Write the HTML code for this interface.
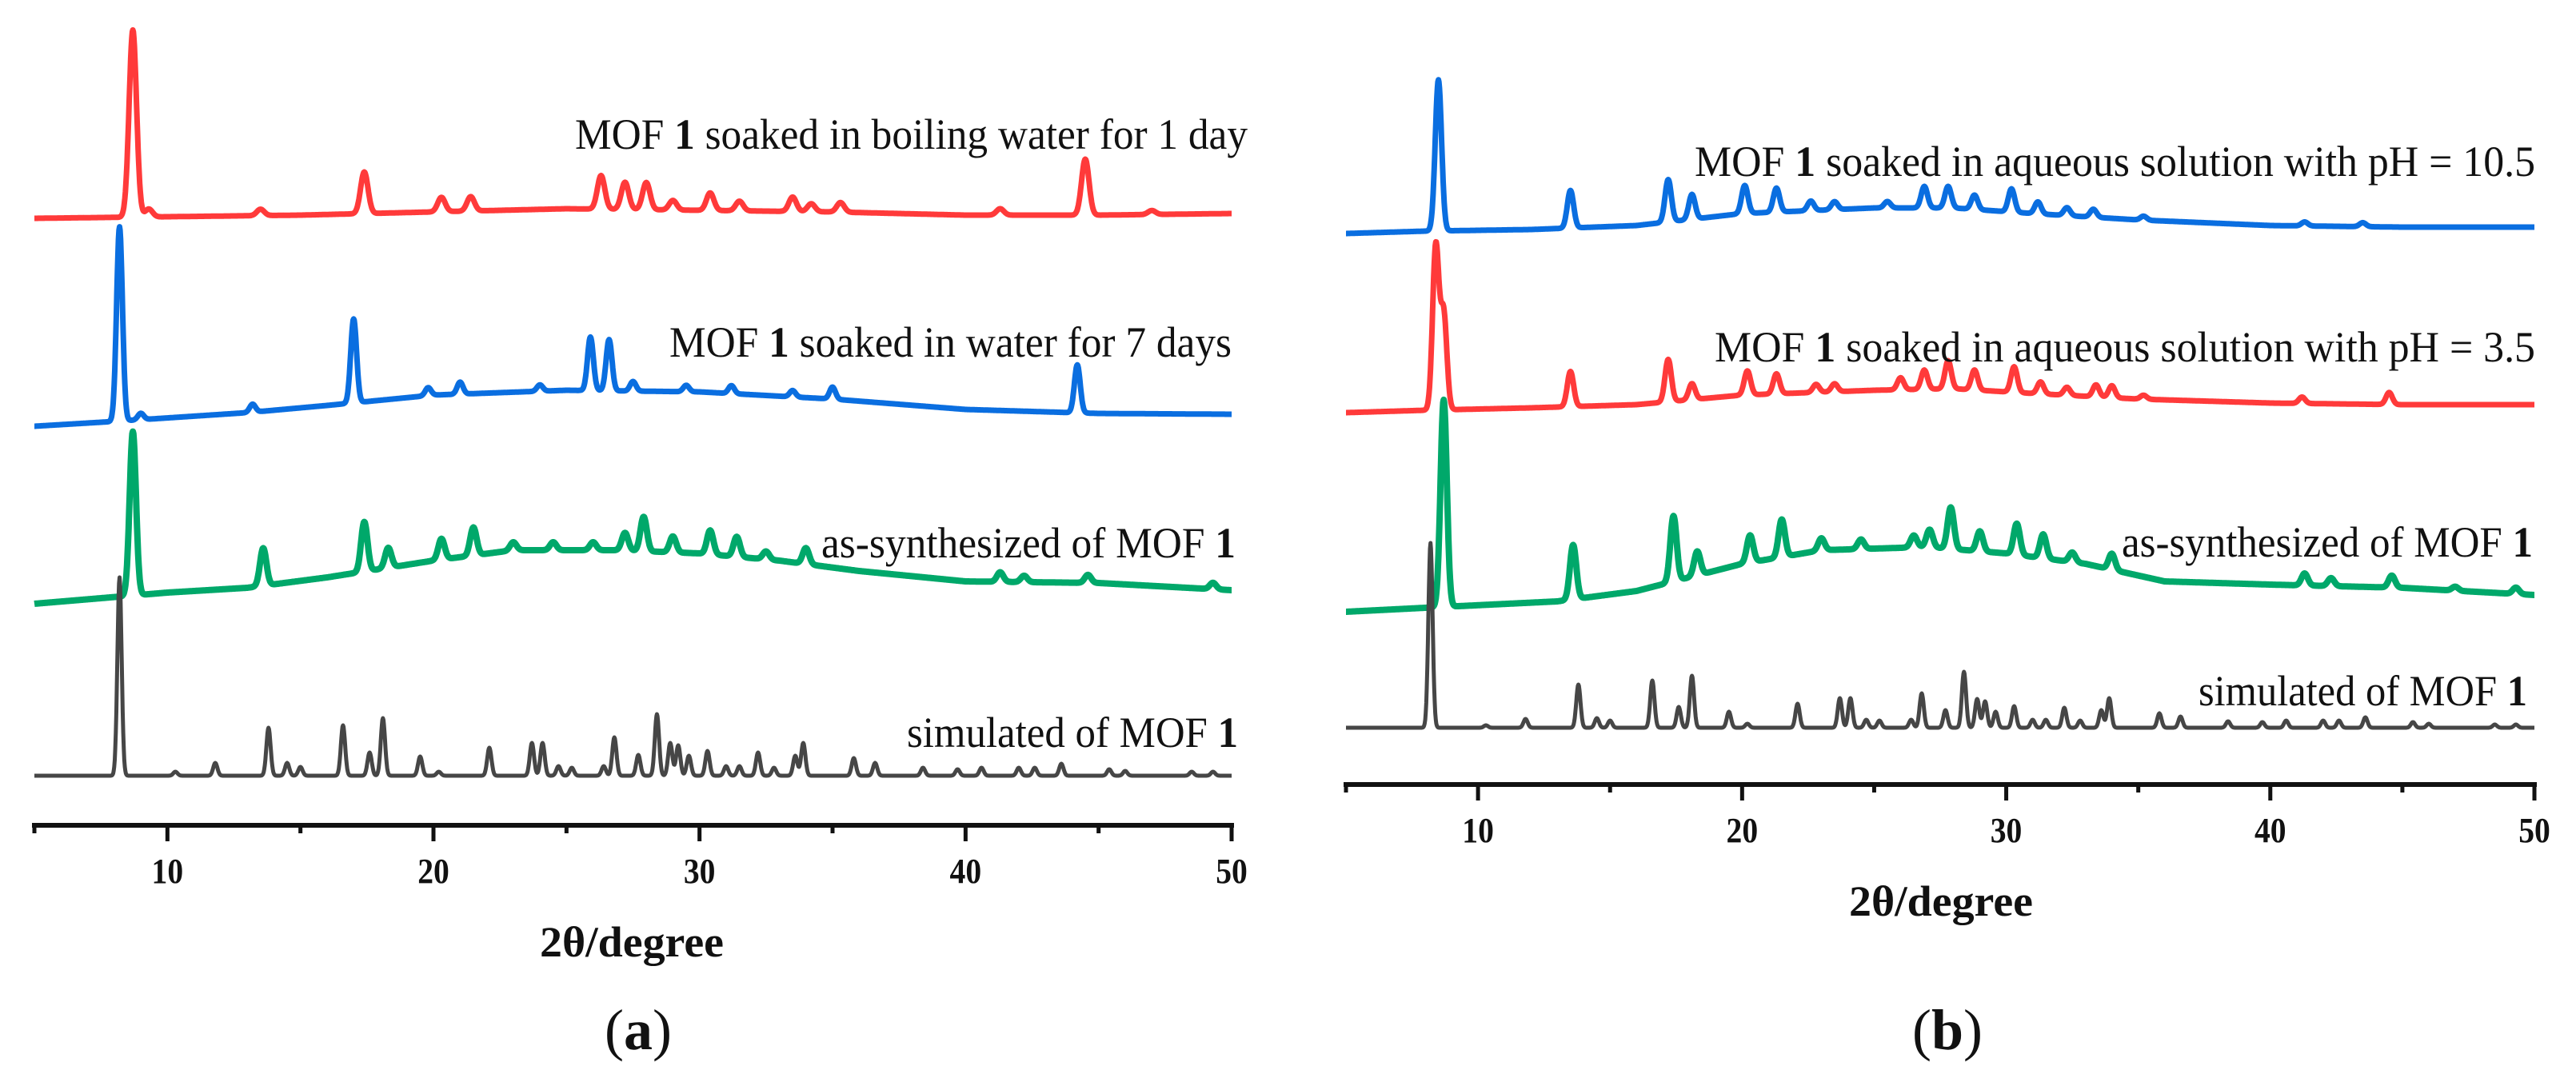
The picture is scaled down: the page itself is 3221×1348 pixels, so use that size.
<!DOCTYPE html>
<html><head><meta charset="utf-8">
<style>
html,body{margin:0;padding:0;background:#fff;}
svg{display:block;}
text{font-family:"Liberation Serif",serif;fill:#111;}
</style></head>
<body>
<svg id="fig" width="3221" height="1348" viewBox="0 0 3221 1348" xmlns="http://www.w3.org/2000/svg">
  <g id="panelA"></g>
  <g id="panelB"></g>
</svg>
<script>
// ---------- data (2θ in degrees, intensity in arbitrary units) ----------
const xTicks = [10, 20, 30, 40, 50];
const xMinorTicks = [5, 15, 25, 35, 45];
const xDomain = [5, 50];

// Panel (a) – boiling water 1 day (red)
const aRedBgX = [5, 10, 15, 20, 25, 30, 35, 40, 45, 50];
const aRedBgY = [0, 2, 4, 8, 12, 10, 8, 4, 4, 6];
const aRedPeakPos = [8.7, 9.3, 13.5, 17.4, 20.3, 21.4, 26.3, 27.2, 28.0, 29.0, 30.4, 31.5, 33.5, 34.2, 35.3, 41.3, 44.5, 47.0];
const aRedPeakH   = [234, 10, 8, 52, 18, 18, 42, 34, 34, 12, 22, 12, 18, 10, 12, 8, 70, 5];

// Panel (a) – water 7 days (blue)
const aBlueBgX = [5, 8, 13, 16, 20, 25, 30, 35, 40, 45, 50];
const aBlueBgY = [0, 6, 17, 26, 39, 45, 43, 34, 21, 16, 15];
const aBluePeakPos = [8.2, 9.0, 13.2, 17.0, 19.8, 21.0, 24.0, 25.9, 26.6, 27.5, 29.5, 31.2, 33.5, 35.0, 44.2];
const aBluePeakH   = [243, 8, 10, 105, 10, 15, 8, 67, 64, 12, 8, 10, 8, 15, 60];

// Panel (a) – as-synthesized (green)
const aGreenBgX = [5, 10, 13, 16, 20, 23, 27, 30, 33, 36, 40, 45, 50];
const aGreenBgY = [0, 14, 20, 33, 54, 67, 67, 63, 54, 41, 28, 26, 17];
const aGreenPeakPos = [8.7, 13.6, 17.4, 18.3, 20.3, 21.5, 23.0, 24.5, 26.0, 27.2, 27.9, 29.0, 30.4, 31.4, 32.5, 34.0, 41.3, 42.2, 44.6, 49.3];
const aGreenPeakH   = [205, 47, 62, 25, 26, 35, 10, 10, 10, 22, 43, 20, 30, 25, 10, 20, 12, 8, 10, 8];

// Simulated peak positions (shared) and panel (a) heights (gray)
const simPeakPos = [8.2, 10.3, 11.8, 13.8, 14.5, 15.0, 16.6, 17.6, 18.1, 19.5, 20.2, 22.1, 23.7, 24.1, 24.7, 25.2, 26.4, 26.8, 27.7, 28.4, 28.9, 29.2, 29.6, 30.3, 31.0, 31.5, 32.2, 32.8, 33.6, 33.9, 35.8, 36.6, 38.4, 39.7, 40.6, 42.0, 42.6, 43.6, 45.4, 46.0, 48.5, 49.3];
const aSimPeakH  = [248, 5, 16, 60, 16, 11, 63, 29, 72, 24, 5, 35, 41, 41, 12, 10, 12, 48, 26, 77, 41, 38, 25, 31, 12, 12, 29, 10, 25, 41, 22, 16, 10, 8, 10, 10, 10, 15, 8, 6, 5, 5];

// Panel (b) – pH 10.5 (blue)
const bBlueBgX = [5, 8, 12, 16, 20, 25, 28, 31, 35, 40, 45, 50];
const bBlueBgY = [0, 3, 5, 10, 25, 32, 32, 25, 17, 10, 8, 8];
const bBluePeakPos = [8.5, 13.5, 17.2, 18.1, 20.1, 21.3, 22.6, 23.5, 25.5, 26.9, 27.8, 28.8, 30.2, 31.2, 32.3, 33.3, 35.2, 41.3, 43.5];
const bBluePeakH   = [189, 47, 53, 31, 35, 30, 12, 10, 8, 27, 27, 18, 29, 15, 10, 10, 5, 5, 5];

// Panel (b) – pH 3.5 (red)
const bRedBgX = [5, 8, 12, 16, 20, 25, 28, 31, 35, 40, 45, 50];
const bRedBgY = [0, 3, 6, 10, 22, 28, 30, 24, 17, 12, 10, 10];
const bRedPeakPos = [8.4, 8.7, 13.5, 17.2, 18.1, 20.2, 21.3, 22.8, 23.5, 26.0, 26.9, 27.8, 28.8, 30.3, 31.3, 32.3, 33.4, 34.0, 35.2, 41.2, 44.5];
const bRedPeakH   = [205, 120, 44, 53, 20, 30, 25, 10, 10, 15, 24, 35, 25, 32, 15, 10, 15, 15, 5, 8, 15];

// Panel (b) – as-synthesized (green)
const bGreenBgX = [5, 8, 13, 16, 20, 23, 27, 30, 33, 36, 40, 45, 50];
const bGreenBgY = [0, 5, 13, 26, 60, 77, 81, 73, 60, 38, 34, 30, 21];
const bGreenPeakPos = [8.7, 13.6, 17.4, 18.3, 20.3, 21.5, 23.0, 24.5, 26.5, 27.1, 27.9, 29.0, 30.4, 31.4, 32.5, 34.0, 41.3, 42.3, 44.6, 47.0, 49.3];
const bGreenPeakH   = [259, 68, 82, 30, 34, 47, 15, 12, 15, 22, 52, 25, 39, 30, 12, 20, 15, 10, 15, 5, 8];

// Panel (b) – simulated (gray)
const bSimPeakH  = [231, 3, 11, 54, 12, 9, 59, 26, 65, 20, 5, 30, 37, 37, 10, 9, 10, 43, 22, 70, 36, 33, 20, 27, 10, 10, 25, 9, 22, 37, 18, 14, 8, 7, 9, 9, 9, 13, 7, 5, 4, 4];

// ---------- rendering ----------
const NS = "http://www.w3.org/2000/svg";
function mk(tag, attrs, parent){
  const el = document.createElementNS(NS, tag);
  for (const k in attrs) el.setAttribute(k, attrs[k]);
  parent.appendChild(el);
  return el;
}
function interp(xs, ys, x){
  if (x <= xs[0]) return ys[0];
  for (let i = 1; i < xs.length; i++){
    if (x <= xs[i]){ const t = (x - xs[i-1]) / (xs[i] - xs[i-1]); return ys[i-1] + t*(ys[i]-ys[i-1]); }
  }
  return ys[ys.length-1];
}
function intensity(x, bgX, bgY, pos, h, sigma){
  let v = interp(bgX, bgY, x);
  for (let i = 0; i < pos.length; i++){ const d = x - pos[i]; v += h[i]*Math.exp(-d*d/(2*sigma*sigma)); }
  return v;
}

function drawPanel(g, cfg){
  const xScale = d => cfg.x0 + (d - xDomain[0]) * (cfg.x1 - cfg.x0) / (xDomain[1] - xDomain[0]);
  cfg.series.forEach(s => {
    const yScale = v => s.base - v;
    let d = "";
    for (let x = xDomain[0]; x <= xDomain[1] + 1e-9; x += 0.02){
      const v = intensity(x, s.bgX, s.bgY, s.pos, s.h, s.sigma);
      d += (d ? "L" : "M") + xScale(x).toFixed(1) + "," + yScale(v).toFixed(1);
    }
    const p = mk("path", {d: d, fill: "none", stroke: s.color, "stroke-width": s.sw, "stroke-linejoin": "round"}, g);
    
    
    const t = mk("text", {x: s.lx0, y: s.ly, "font-size": 54, textLength: s.lx1 - s.lx0, lengthAdjust: "spacingAndGlyphs"}, g);
    
    
    s.label.forEach(part => {
      const ts = mk("tspan", part.b ? {"font-weight": "bold"} : {}, t);
      ts.textContent = part.t;
    });
  });
  // axis
  const ax = mk("line", {x1: cfg.x0 - 3, x2: cfg.x1 + 3, y1: cfg.axisY, y2: cfg.axisY, stroke: "#111", "stroke-width": 6}, g);
  
  
  xTicks.forEach(v => {
    const tk = mk("line", {x1: xScale(v), x2: xScale(v), y1: cfg.axisY, y2: cfg.axisY + 20, stroke: "#111", "stroke-width": 5}, g);
    
    
    const tl = mk("text", {x: xScale(v), y: cfg.axisY + 72, "font-size": 44, "font-weight": "bold", "text-anchor": "middle", transform: "translate(" + xScale(v) + " 0) scale(0.9 1) translate(" + (-xScale(v)) + " 0)"}, g);
    
    
    tl.textContent = v;
  });
  xMinorTicks.forEach(v => {
    const tk = mk("line", {x1: xScale(v), x2: xScale(v), y1: cfg.axisY, y2: cfg.axisY + 10, stroke: "#111", "stroke-width": 5}, g);
    
    
  });
  const at = mk("text", {x: cfg.titleX, y: cfg.axisY + 164, "font-size": 54, "font-weight": "bold", "text-anchor": "middle", textLength: 230, lengthAdjust: "spacingAndGlyphs"}, g);
  
  
  at.textContent = "2θ/degree";
  const pl = mk("text", {x: cfg.titleX + 8, y: 1312, "font-size": 72, "text-anchor": "middle"}, g);
  
  
  const a1 = mk("tspan", {}, pl); a1.textContent = "(";
  const a2 = mk("tspan", {"font-weight": "bold"}, pl); a2.textContent = cfg.letter;
  const a3 = mk("tspan", {}, pl); a3.textContent = ")";
}

const RED = "#ff3a3a", BLUE = "#0a6ee0", GREEN = "#00a86a", GRAY = "#464646";
const flat = [5, 50], zero = [0, 0];

drawPanel(document.getElementById("panelA"), {
  x0: 43, x1: 1540, axisY: 1032, titleX: 790, letter: "a",
  series: [
    {name: "boiling-water-1-day", color: RED, sw: 7, base: 273, bgX: aRedBgX, bgY: aRedBgY, pos: aRedPeakPos, h: aRedPeakH, sigma: 0.14,
     lx0: 719, lx1: 1560, ly: 186, label: [{t: "MOF "}, {t: "1", b: true}, {t: " soaked in boiling water for 1 day"}]},
    {name: "water-7-days", color: BLUE, sw: 7, base: 533, bgX: aBlueBgX, bgY: aBlueBgY, pos: aBluePeakPos, h: aBluePeakH, sigma: 0.11,
     lx0: 837, lx1: 1540, ly: 446, label: [{t: "MOF "}, {t: "1", b: true}, {t: " soaked in water for 7 days"}]},
    {name: "as-synthesized-a", color: GREEN, sw: 8, base: 755, bgX: aGreenBgX, bgY: aGreenBgY, pos: aGreenPeakPos, h: aGreenPeakH, sigma: 0.12,
     lx0: 1027, lx1: 1545, ly: 697, label: [{t: "as-synthesized of MOF "}, {t: "1", b: true}]},
    {name: "simulated-a", color: GRAY, sw: 5, base: 970, bgX: flat, bgY: zero, pos: simPeakPos, h: aSimPeakH, sigma: 0.08,
     lx0: 1134, lx1: 1548, ly: 934, label: [{t: "simulated of MOF "}, {t: "1", b: true}]}
  ]
});

drawPanel(document.getElementById("panelB"), {
  x0: 1683, x1: 3169, axisY: 981, titleX: 2427, letter: "b",
  series: [
    {name: "ph-10-5", color: BLUE, sw: 7, base: 292, bgX: bBlueBgX, bgY: bBlueBgY, pos: bBluePeakPos, h: bBluePeakH, sigma: 0.12,
     lx0: 2119, lx1: 3170, ly: 220, label: [{t: "MOF "}, {t: "1", b: true}, {t: " soaked in  aqueous solution with pH = 10.5"}]},
    {name: "ph-3-5", color: RED, sw: 7, base: 516, bgX: bRedBgX, bgY: bRedBgY, pos: bRedPeakPos, h: bRedPeakH, sigma: 0.12,
     lx0: 2144, lx1: 3170, ly: 452, label: [{t: "MOF "}, {t: "1", b: true}, {t: " soaked in  aqueous solution with pH = 3.5"}]},
    {name: "as-synthesized-b", color: GREEN, sw: 8, base: 765, bgX: bGreenBgX, bgY: bGreenBgY, pos: bGreenPeakPos, h: bGreenPeakH, sigma: 0.12,
     lx0: 2653, lx1: 3167, ly: 696, label: [{t: "as-synthesized of MOF "}, {t: "1", b: true}]},
    {name: "simulated-b", color: GRAY, sw: 5, base: 910, bgX: flat, bgY: zero, pos: simPeakPos, h: bSimPeakH, sigma: 0.08,
     lx0: 2749, lx1: 3160, ly: 882, label: [{t: "simulated of MOF "}, {t: "1", b: true}]}
  ]
});
</script>
</body></html>
